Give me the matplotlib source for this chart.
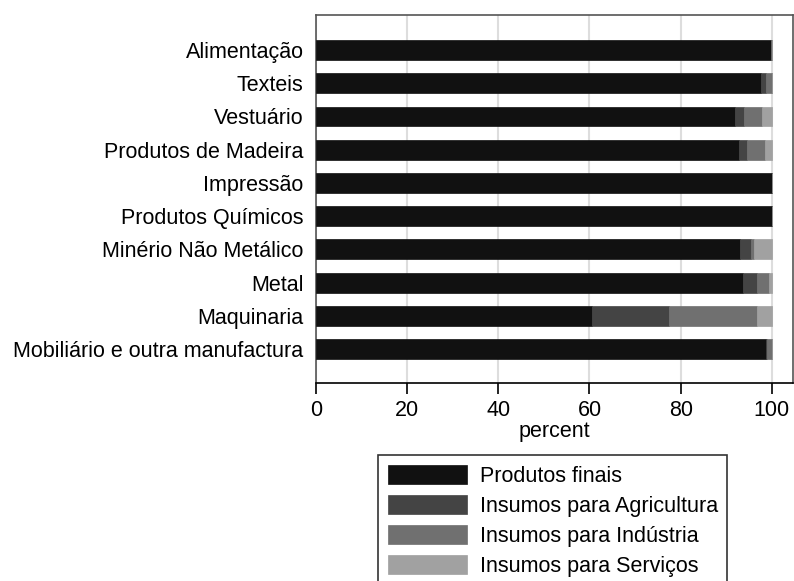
import numpy as np
import matplotlib.pyplot as plt

plt.rcParams['font.family'] = ['Liberation Sans', 'DejaVu Sans']

# sectors, top to bottom
setores = ['Alimentação', 'Texteis', 'Vestuário', 'Produtos de Madeira', 'Impressão',
           'Produtos Químicos', 'Minério Não Metálico', 'Metal', 'Maquinaria',
           'Mobiliário e outra manufactura']

# shares in percent
finais = [99.8, 97.7, 91.9, 92.8, 100.0, 100.0, 93.1, 93.6, 60.5, 98.7]
agricultura = [0.1, 1.1, 2.0, 1.7, 0.0, 0.0, 2.3, 3.1, 17.0, 0.3]
industria = [0.1, 1.2, 4.0, 4.1, 0.0, 0.0, 0.6, 2.7, 19.2, 1.0]
servicos = [0.0, 0.0, 2.1, 1.4, 0.0, 0.0, 4.0, 0.6, 3.3, 0.0]

series = [finais, agricultura, industria, servicos]
nomes = ['Produtos finais', 'Insumos para Agricultura', 'Insumos para Indústria',
         'Insumos para Serviços']
cores = ['#111111', '#444444', '#707070', '#a1a1a1']

fs = 15.5

fig = plt.figure(figsize=(7.94, 5.81), dpi=100)
ax = fig.add_axes([0.398, 0.341, 0.601, 0.634])

y = np.arange(len(setores))
left = np.zeros(len(setores))
for vals, nome, cor in zip(series, nomes, cores):
    vals = np.array(vals)
    ax.barh(y, vals, left=left, height=0.6, color=cor, edgecolor=cor,
            linewidth=0.5, label=nome, zorder=3)
    left += vals

ax.set_xlim(0, 104.7)
ax.set_ylim(len(setores) - 1 + 1.02, -1.07)
ax.set_yticks(y)
ax.set_yticklabels(setores, fontsize=fs)
ax.tick_params(axis='y', length=0, pad=9)
ax.set_xticks([0, 20, 40, 60, 80, 100])
ax.tick_params(axis='x', labelsize=fs, length=8, width=1.2, direction='out', pad=4)
ax.set_xlabel('percent', fontsize=fs, labelpad=0)
ax.grid(axis='x', color='#dddddd', linewidth=1.5, zorder=0)

for side in ['top', 'right', 'left']:
    ax.spines[side].set_color('#555555')
    ax.spines[side].set_linewidth(1.2)
ax.spines['bottom'].set_color('black')
ax.spines['bottom'].set_linewidth(1.2)

leg = fig.legend(loc='upper left', bbox_to_anchor=(378 / 794, 1 - 455 / 581),
                 fontsize=fs, frameon=True, fancybox=False, handlelength=3.67,
                 handleheight=1.0, labelspacing=0.37, borderpad=0.45,
                 handletextpad=0.6, borderaxespad=0)
leg.get_frame().set_edgecolor('black')
leg.get_frame().set_linewidth(1.2)

fig.savefig('out.png', dpi=100)
